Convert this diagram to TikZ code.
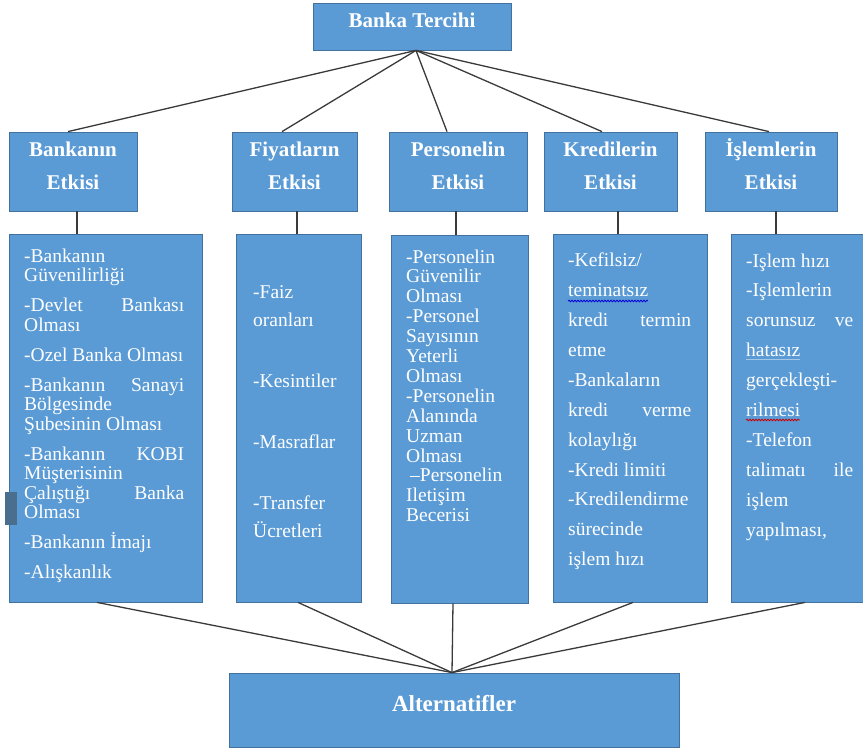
\documentclass[tikz,border=0pt]{standalone}
\usepackage{fontspec}
\setmainfont{Liberation Serif}
\usetikzlibrary{decorations.pathmorphing}
\definecolor{boxblue}{HTML}{5B9BD5}
\definecolor{boxedge}{HTML}{41719C}
\definecolor{linkgray}{HTML}{3A3A3A}
\definecolor{markslate}{HTML}{4A6E8E}
\begin{document}
\begin{tikzpicture}[x=1pt,y=-1pt,
  box/.style={draw=boxedge, line width=0.8pt, fill=boxblue, rectangle, inner sep=0pt},
  catbox/.style={box, minimum height=79pt},
  detbox/.style={box, minimum height=368pt},
  link/.style={draw=linkgray, line width=1.3pt},
  headtxt/.style={text=white, font=\bfseries\fontsize{21}{33}\selectfont, inner sep=0pt, anchor=base},
  bodytxt/.style={text=white, inner sep=0pt, anchor=base west},
  spellmark/.style={decorate, decoration={snake, amplitude=0.8pt, segment length=3pt}, line width=0.8pt}
]
\useasboundingbox (0,0) rectangle (863,752);

% goal, criteria, sub-criteria and alternatives
\node[box, minimum width=198pt, minimum height=47pt] (top) at (412,26.5) {};
\node[catbox, minimum width=128pt] (c1) at (73,171.5) {};
\node[catbox, minimum width=125pt] (c2) at (294.5,171.5) {};
\node[catbox, minimum width=138pt] (c3) at (458,171.5) {};
\node[catbox, minimum width=133pt] (c4) at (610.5,171.5) {};
\node[catbox, minimum width=132pt] (c5) at (771,171.5) {};
\node[detbox, minimum width=193pt] (d1) at (105.5,418) {};
\node[detbox, minimum width=125pt] (d2) at (298.5,418) {};
\node[detbox, minimum width=137pt] (d3) at (459.5,419) {};
\node[detbox, minimum width=154pt] (d4) at (630,418) {};
\node[detbox, minimum width=137pt] (d5) at (799.5,418) {};
\node[box, minimum width=450pt, minimum height=74pt] (alt) at (454,710) {};

% small mark at the left edge
\fill[markslate] (5,492) rectangle (17,525);

% links from the goal to the criteria
\draw[link] ([xshift=4pt]top.south) -- ([xshift=-5pt]c1.north);
\draw[link] ([xshift=4pt]top.south) -- ([xshift=-12.5pt]c2.north);
\draw[link] ([xshift=4pt]top.south) -- ([xshift=-11pt]c3.north);
\draw[link] ([xshift=4pt]top.south) -- ([xshift=-8.5pt]c4.north);
\draw[link] ([xshift=4pt]top.south) -- ([xshift=-2pt]c5.north);

% links from the criteria to their lists
\draw[link] ([xshift=4pt]c1.south) -- ([xshift=4pt]c1.south |- d1.north);
\draw[link] ([xshift=2.5pt]c2.south) -- ([xshift=2.5pt]c2.south |- d2.north);
\draw[link] ([xshift=-2pt]c3.south) -- ([xshift=-2pt]c3.south |- d3.north);
\draw[link] ([xshift=7.5pt]c4.south) -- ([xshift=7.5pt]c4.south |- d4.north);
\draw[link] ([xshift=5pt]c5.south) -- ([xshift=5pt]c5.south |- d5.north);

% links from the lists to the alternatives
\draw[link] ([xshift=-8.5pt]d1.south) -- ([xshift=-2pt]alt.north);
\draw[link] ([xshift=-0.5pt]d2.south) -- ([xshift=-2pt]alt.north);
\draw[link] ([xshift=-6.5pt]d3.south) -- ([xshift=-2pt]alt.north);
\draw[link] ([xshift=3pt]d4.south) -- ([xshift=-2pt]alt.north);
\draw[link] ([xshift=5.5pt]d5.south) -- ([xshift=-2pt]alt.north);

% titles
\node[headtxt] (toptxt) at (412,28) {Banka Tercihi};
\node[headtxt] (c1txt) at (73,157) {\parbox[t]{126pt}{\centering Bankanın\\Etkisi}};
\node[headtxt] (c2txt) at (294.5,157) {\parbox[t]{123pt}{\centering Fiyatların\\Etkisi}};
\node[headtxt] (c3txt) at (458,157) {\parbox[t]{136pt}{\centering Personelin\\Etkisi}};
\node[headtxt] (c4txt) at (610.5,157) {\parbox[t]{131pt}{\centering Kredilerin\\Etkisi}};
\node[headtxt] (c5txt) at (771,157) {\parbox[t]{130pt}{\centering İşlemlerin\\Etkisi}};
\node[headtxt, font=\bfseries\fontsize{23}{28}\selectfont] (alttxt) at (454,711) {Alternatifler};

% list texts
\node[bodytxt] (d1txt) at (24,262) {\fontsize{19.5}{19.5}\selectfont\parbox[t]{160pt}{\raggedright
-Bankanın\\Güvenilirliği\par\vspace{10.5pt}
-Devlet\hfill Bankası\\Olması\par\vspace{10.5pt}
-Ozel Banka Olması\par\vspace{10.5pt}
-Bankanın\hfill Sanayi\\Bölgesinde\\Şubesinin Olması\par\vspace{10.5pt}
-Bankanın\hfill KOBI\\Müşterisinin\\Çalıştığı\hfill Banka\\Olması\par\vspace{10.5pt}
-Bankanın İmajı\par\vspace{10.5pt}
-Alışkanlık}};

\node[bodytxt] (d2txt) at (253,298) {\fontsize{19.5}{28.5}\selectfont\parbox[t]{100pt}{\raggedright
-Faiz\\oranları\par\vspace{32.5pt}
-Kesintiler\par\vspace{32.5pt}
-Masraflar\par\vspace{32.5pt}
-Transfer\\Ücretleri}};

\node[bodytxt] (d3txt) at (406,263) {\fontsize{19.5}{19.9}\selectfont\parbox[t]{115pt}{\raggedright
-Personelin\\Güvenilir\\Olması\\-Personel\\Sayısının\\Yeterli\\Olması\\-Personelin\\Alanında\\Uzman\\Olması\\\hspace*{4pt}–Personelin\\Iletişim\\Becerisi}};

\node[bodytxt] (d4txt) at (568,266) {\fontsize{19.5}{30}\selectfont\parbox[t]{123pt}{\raggedright
-Kefilsiz/\\teminatsız\\kredi\hfill termin\\etme\\-Bankaların\\kredi\hfill verme\\kolaylığı\\-Kredi limiti\\-Kredilendirme\\sürecinde\\işlem hızı}};

\node[bodytxt] (d5txt) at (746,267) {\fontsize{19.5}{29.9}\selectfont\parbox[t]{107pt}{\raggedright
-Işlem hızı\\-Işlemlerin\\sorunsuz\hfill ve\\hatasız\\gerçekleşti-\\rilmesi\\-Telefon\\talimatı\hfill ile\\işlem\\yapılması,}};

% proofing marks under single words
\draw[spellmark, draw=blue!85!black] (568,301) -- (648,301);
\draw[spellmark, draw=red!80!black] (746,420) -- (800,420);
\draw[white!45!boxblue, line width=0.6pt] (746,359.5) -- (800,359.5);
\end{tikzpicture}
\end{document}
